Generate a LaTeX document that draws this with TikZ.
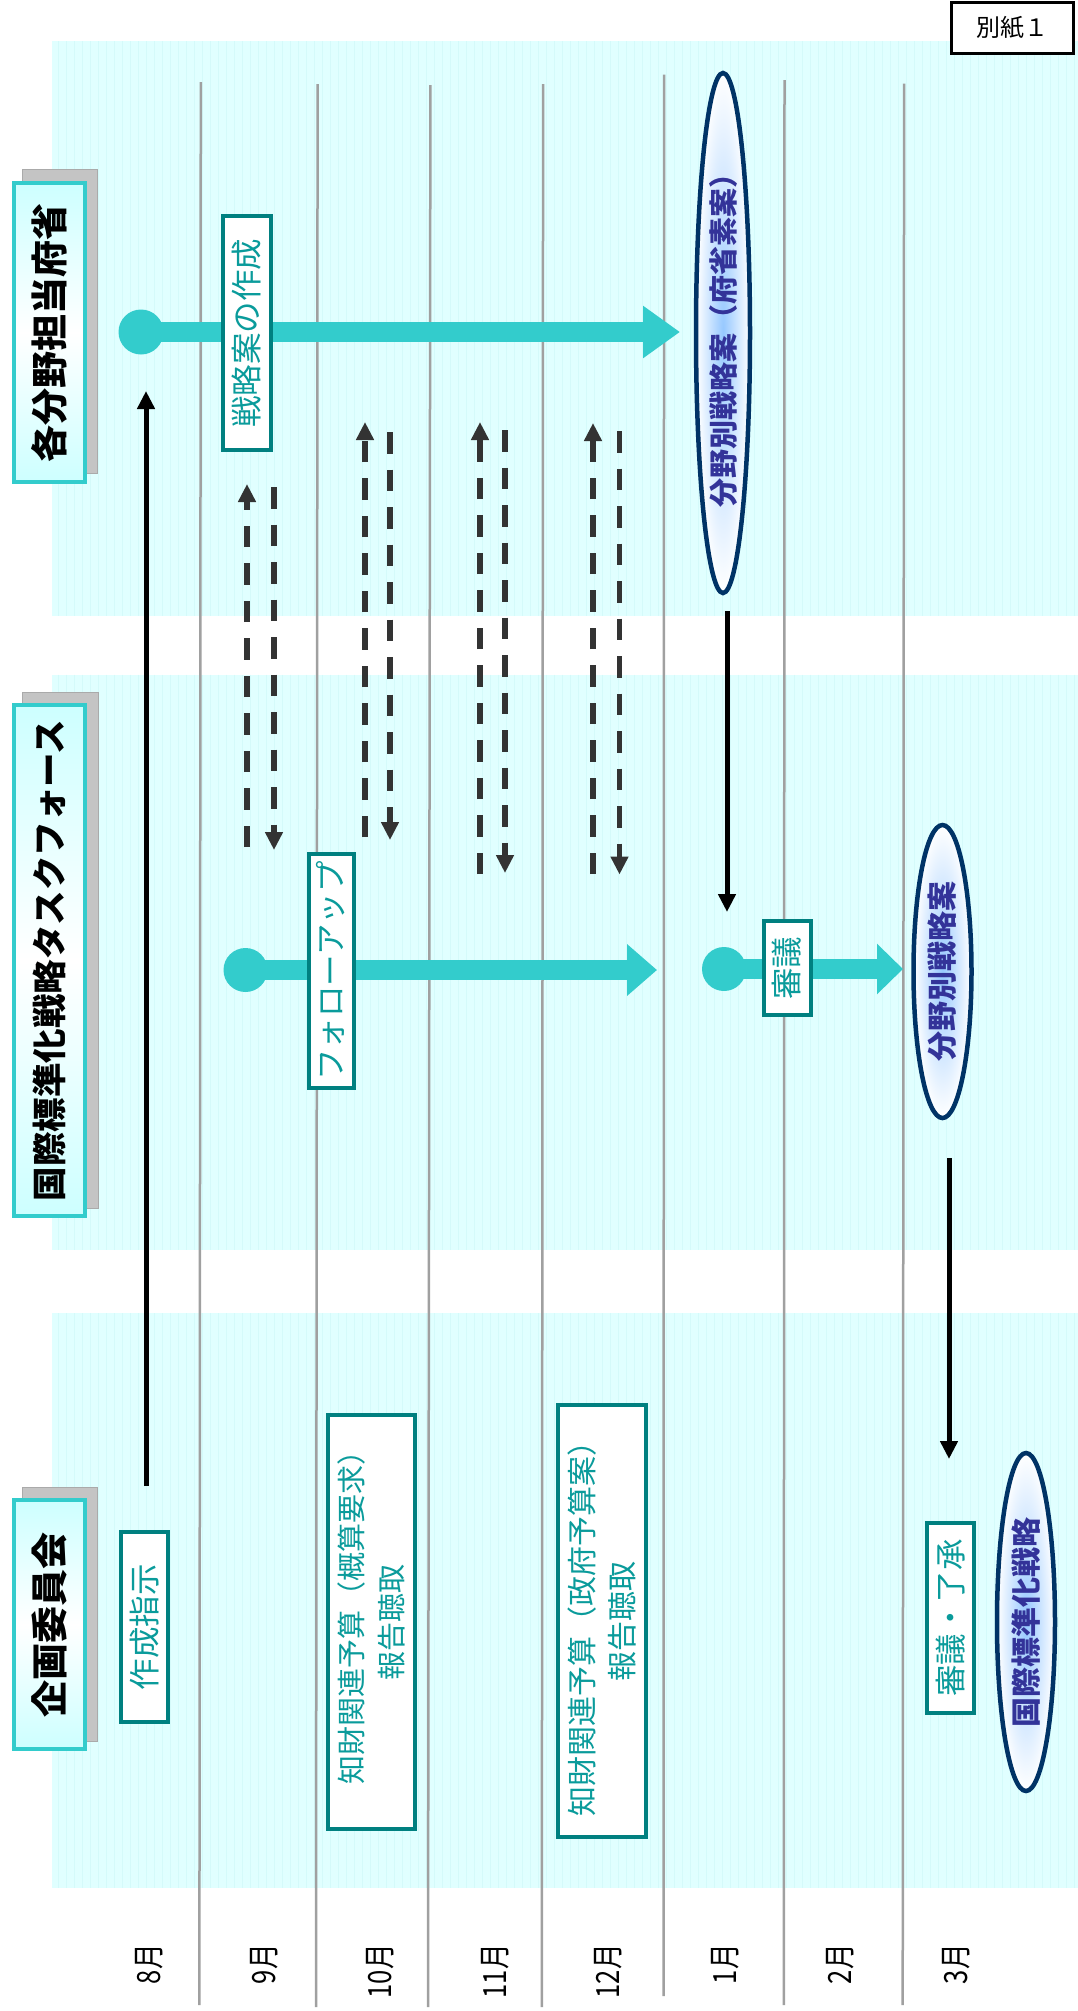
\documentclass[tikz,border=0pt]{standalone}
\usepackage{fontspec}
\setmainfont{Noto Sans CJK JP}
\usetikzlibrary{arrows.meta,shapes.geometric}
\definecolor{band}{RGB}{224,255,255}
\definecolor{stripe}{RGB}{212,250,250}
\definecolor{gridline}{RGB}{160,160,160}
\definecolor{tealA}{RGB}{51,204,204}
\definecolor{boxborder}{RGB}{0,128,128}
\definecolor{boxtext}{RGB}{10,155,155}
\definecolor{navy}{RGB}{0,51,102}
\definecolor{indigo}{RGB}{51,51,153}
\definecolor{glow}{RGB}{150,200,255}
\definecolor{dashgray}{RGB}{51,51,51}
\definecolor{hdrfill}{RGB}{205,255,255}
\definecolor{shadowgray}{RGB}{196,196,196}
\definecolor{shadowline}{RGB}{170,170,170}
\newcommand{\monthtext}[1]{\scalebox{0.8}[1]{#1}}
\tikzset{
  hdr/.style={draw=tealA, line width=3.5pt, rotate=90, top color=hdrfill, bottom color=hdrfill, middle color=white,
    inner sep=0pt, text=black, font=\bfseries\fontsize{37}{40}\selectfont, minimum height=71pt},
  shadowbox/.style={fill=shadowgray, draw=shadowline, line width=1pt},
  stepbox/.style={draw=boxborder, line width=4pt, fill=white, rotate=90, text=boxtext, inner sep=0pt,
    align=center, font=\fontsize{31.5}{40}\selectfont},
  ell/.style={ellipse, draw=navy, line width=4.5pt, rotate=90, inner color=glow, outer color=white,
    inner sep=0pt, text=indigo, font=\bfseries\fontsize{30}{34}\selectfont},
  month/.style={rotate=90, anchor=east, inner sep=0pt, font=\fontsize{32}{34}\selectfont},
  tealdot/.style={circle, fill=tealA, inner sep=0pt},
  tealshaft/.style={draw=tealA, line width=20pt},
  blackarrow/.style={draw=black, line width=5pt, -{Triangle[length=18pt,width=17pt]}},
  dasharrow/.style={draw=dashgray, line width=5.5pt, dash pattern=on 21.5pt off 16pt, -{Triangle[length=18pt,width=17pt]}},
}
\begin{document}
\begin{tikzpicture}[x=1pt,y=-1pt]
\useasboundingbox (0,0) rectangle (1078,2011);
\fill[white] (0,0) rectangle (1078,2011);
% bands
\foreach \ya/\yb in {41/616, 674.5/1249.5, 1313/1888} {
  \fill[band] (51.6,\ya) rectangle (1078,\yb);
  \foreach \xx in {58,66,...,1074} \draw[stripe, line width=0.8pt] (\xx,\ya) -- (\xx,\yb);
}
% month divider lines
\foreach \xt/\xb/\yt/\yb in {200.8/199.4/82/2005, 317.6/316/84/2007, 430.4/428/85/2007, 543.1/541.8/84/2007,
  664.1/663.5/74.5/1996, 784.5/783.8/80/2005, 904.1/902.7/83.5/2005}
  \draw[gridline, line width=2.5pt] (\xt,\yt) -- (\xb,\yb);
% month labels
\node[month] (m8) at (149,1944) {\monthtext{8月}};
\node[month] (m9) at (264,1944) {\monthtext{9月}};
\node[month] (m10) at (380.5,1944) {\monthtext{10月}};
\node[month] (m11) at (495,1944) {\monthtext{11月}};
\node[month] (m12) at (608,1944) {\monthtext{12月}};
\node[month] (m1) at (725,1944) {\monthtext{1月}};
\node[month] (m2) at (840,1944) {\monthtext{2月}};
\node[month] (m3) at (956,1944) {\monthtext{3月}};
% headers with shadows
\draw[shadowbox] (22.7,169) rectangle (97,473);
\node[hdr, minimum width=299pt] (h1) at (49.7,332.5) {各分野担当府省};
\draw[shadowbox] (22.7,692) rectangle (98,1208);
\node[hdr, minimum width=511pt, font=\bfseries\fontsize{34.5}{40}\selectfont] (h2) at (49.7,960.5) {国際標準化戦略タスクフォース};
\draw[shadowbox] (22.7,1487) rectangle (97,1741);
\node[hdr, minimum width=249pt] (h3) at (49.7,1624.5) {企画委員会};
% 別紙
\node[draw=black, line width=3pt, fill=white, minimum width=122pt, minimum height=51pt, inner sep=0pt,
  font=\fontsize{24}{28}\selectfont] (bessi) at (1012.5,27.5) {別紙１};
% black arrows
\coordinate (k0) at (146,1486);
\coordinate (k1) at (146,391);
\draw[blackarrow] (k0) -- (k1);
\coordinate (f0) at (727,611);
\coordinate (f1) at (727,912);
\draw[blackarrow] (f0) -- (f1);
\coordinate (g0) at (949,1158);
\coordinate (g1) at (949,1459);
\draw[blackarrow] (g0) -- (g1);
% dashed arrows
\foreach \n/\x/\ya/\yb in {a/247/847/484, b/274/487/850, c/365/837/422, d/390/432/840,
  e/480/874/422, f/505/430/873, g/593/874/423, h/619.5/431/874.5} {
  \coordinate (ds\n) at (\x,\ya);
  \coordinate (de\n) at (\x,\yb);
  \draw[dasharrow] (ds\n) -- (de\n);
}
% teal arrows
\node[tealdot, minimum size=45pt] (d1) at (141,332) {};
\coordinate (t1) at (680,332);
\draw[tealshaft, -{Triangle[length=37pt,width=50pt]}] (d1.center) -- (t1);
\node[tealdot, minimum size=44pt] (d2) at (245.5,970) {};
\coordinate (t2) at (657,970);
\draw[tealshaft, -{Triangle[length=30pt,width=50pt]}] (d2.center) -- (t2);
\node[tealdot, minimum size=44pt] (d3) at (724,969) {};
\coordinate (t3) at (903,969);
\draw[tealshaft, -{Triangle[length=26pt,width=49pt]}] (d3.center) -- (t3);
% step boxes
\node[stepbox, minimum width=234pt, minimum height=48pt] (s1) at (247,333) {戦略案の作成};
\node[stepbox, minimum width=234pt, minimum height=45pt] (s2) at (331,971) {フォローアップ};
\node[stepbox, minimum width=94pt, minimum height=47pt] (s3) at (787,968) {審議};
\node[stepbox, minimum width=190pt, minimum height=47pt] (s4) at (144.5,1627) {作成指示};
\node[stepbox, minimum width=414pt, minimum height=87pt, font=\fontsize{29}{40}\selectfont] (s5) at (371.5,1622)
  {\hspace*{24pt}知財関連予算（概算要求）\\報告聴取};
\node[stepbox, minimum width=432pt, minimum height=88pt, font=\fontsize{30}{40}\selectfont] (s6) at (601.5,1621)
  {知財関連予算（政府予算案）\\報告聴取};
\node[stepbox, minimum width=190pt, minimum height=47pt] (s7) at (950.7,1618) {審議・了承};
% ellipses
\node[ell, minimum width=520pt, minimum height=54pt, font=\bfseries\fontsize{29}{34}\selectfont] (e1) at (723,333) {分野別戦略案（府省素案）};
\node[ell, minimum width=293pt, minimum height=58pt] (e2) at (942.5,971.5) {分野別戦略案};
\node[ell, minimum width=338pt, minimum height=58pt] (e3) at (1026,1622) {国際標準化戦略};
\end{tikzpicture}
\end{document}
